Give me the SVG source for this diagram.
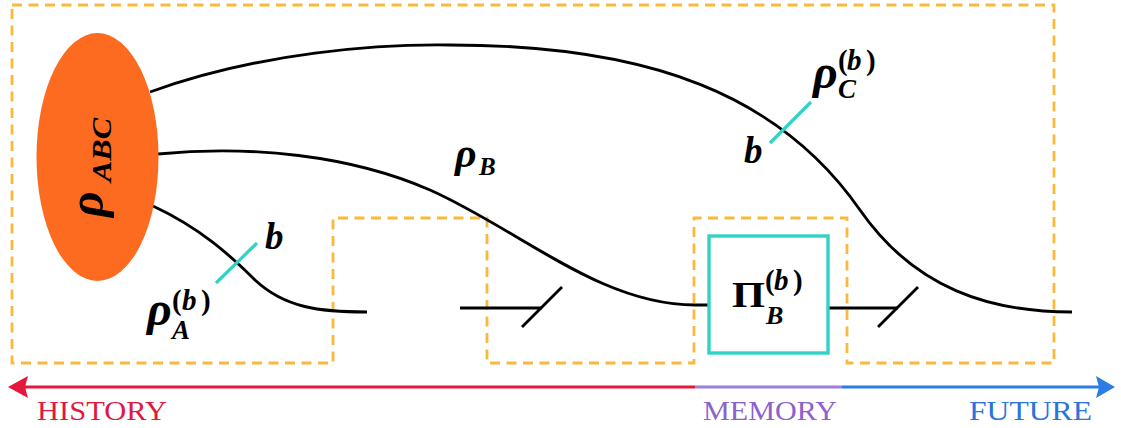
<svg xmlns="http://www.w3.org/2000/svg" width="1121" height="428" viewBox="0 0 1121 428">
  <style>
    .dash { fill: none; stroke: #F9BA3B; stroke-width: 2.8; stroke-dasharray: 10 6.5; }
    .wire { fill: none; stroke: #000; stroke-width: 2.9; stroke-linecap: butt; }
    .tick { fill: none; stroke: #2FD3C5; stroke-width: 3.2; }
    .m { font-family: "Liberation Serif", "DejaVu Serif", serif; font-weight: bold; fill: #000; }
    .i { font-style: italic; }
    .lab { font-family: "Liberation Serif", "DejaVu Serif", serif; font-size: 27px; }
  </style>

  <g id="regions">
    <path class="dash" d="M12,5 H1054 V363 H847 V218 H694 V363 H487 V218 H333 V363 H12 Z"/>
  </g>

  <g id="connectors">
    <path class="wire" d="M150,92 C260,52 380,44 450,45 C650,45 780,95 860,210 C915,289 990,312 1072,312"/>
    <path class="wire" d="M158,154 C250,145 350,155 430,190 C520,230 600,305 695,305 L709,305"/>
    <path class="wire" d="M153,206 C200,228 230,255 255,280 C285,308 320,312 367,312"/>
    <path class="wire" d="M460,308 H542"/>
    <path class="wire" d="M522,327 L562,287"/>
    <path class="wire" d="M828,308 H898"/>
    <path class="wire" d="M878,327 L918,287"/>
    <path class="tick" d="M216,283 L257,243"/>
    <path class="tick" d="M770,143 L811,102"/>
  </g>

  <g id="rhoABC">
    <ellipse cx="97.5" cy="157" rx="61" ry="124" fill="#FC6B1F"/>
    <text class="m i" transform="translate(103,217) rotate(-90)"><tspan x="0" y="0" font-size="50">ρ</tspan><tspan x="35" y="8" font-size="28" textLength="64" lengthAdjust="spacingAndGlyphs">ABC</tspan></text>
  </g>

  <g id="label-rhoA">
    <text class="m"><tspan class="i" x="147" y="325" font-size="48">ρ</tspan><tspan x="172" y="310" font-size="29">(</tspan><tspan class="i" x="182" y="310" font-size="29">b</tspan><tspan x="201" y="310" font-size="29">)</tspan><tspan class="i" x="172" y="339" font-size="27">A</tspan></text>
    <text class="m i" x="265" y="249" font-size="37">b</text>
  </g>

  <g id="label-rhoB">
    <text class="m i"><tspan x="455" y="167" font-size="42">ρ</tspan><tspan x="479" y="175" font-size="25">B</tspan></text>
  </g>

  <g id="label-rhoC">
    <text class="m"><tspan class="i" x="813" y="88" font-size="48">ρ</tspan><tspan x="838" y="70" font-size="29">(</tspan><tspan class="i" x="847" y="70" font-size="29">b</tspan><tspan x="866" y="70" font-size="29">)</tspan><tspan class="i" x="838" y="98" font-size="27">C</tspan></text>
    <text class="m i" x="744" y="163" font-size="37">b</text>
  </g>

  <g id="Pi">
    <rect x="709" y="236" width="119" height="117" fill="#fff" stroke="#2FD3C5" stroke-width="3.4"/>
    <text class="m"><tspan x="732" y="307" font-size="35" textLength="33" lengthAdjust="spacingAndGlyphs">Π</tspan><tspan x="765" y="290" font-size="29">(</tspan><tspan class="i" x="774" y="290" font-size="29">b</tspan><tspan x="793" y="290" font-size="29">)</tspan><tspan class="i" x="766" y="324" font-size="26">B</tspan></text>
  </g>

  <g id="timeline">
    <line x1="25" y1="387" x2="695" y2="387" stroke="#E6173F" stroke-width="3"/>
    <line x1="695" y1="387" x2="842" y2="387" stroke="#9D7ED8" stroke-width="3"/>
    <line x1="842" y1="387" x2="1099" y2="387" stroke="#2B7DE3" stroke-width="3"/>
    <polygon points="8,387 28,376 25,387 28,398" fill="#E6173F"/>
    <polygon points="1115,387 1096,376 1099,387 1096,398" fill="#2B7DE3"/>
    <text class="lab" x="37" y="420" fill="#E3173E" textLength="130" lengthAdjust="spacingAndGlyphs">HISTORY</text>
    <text class="lab" x="703" y="420" fill="#8C62CC" textLength="134" lengthAdjust="spacingAndGlyphs">MEMORY</text>
    <text class="lab" x="969" y="420" fill="#2A74DB" textLength="123" lengthAdjust="spacingAndGlyphs">FUTURE</text>
  </g>
</svg>
